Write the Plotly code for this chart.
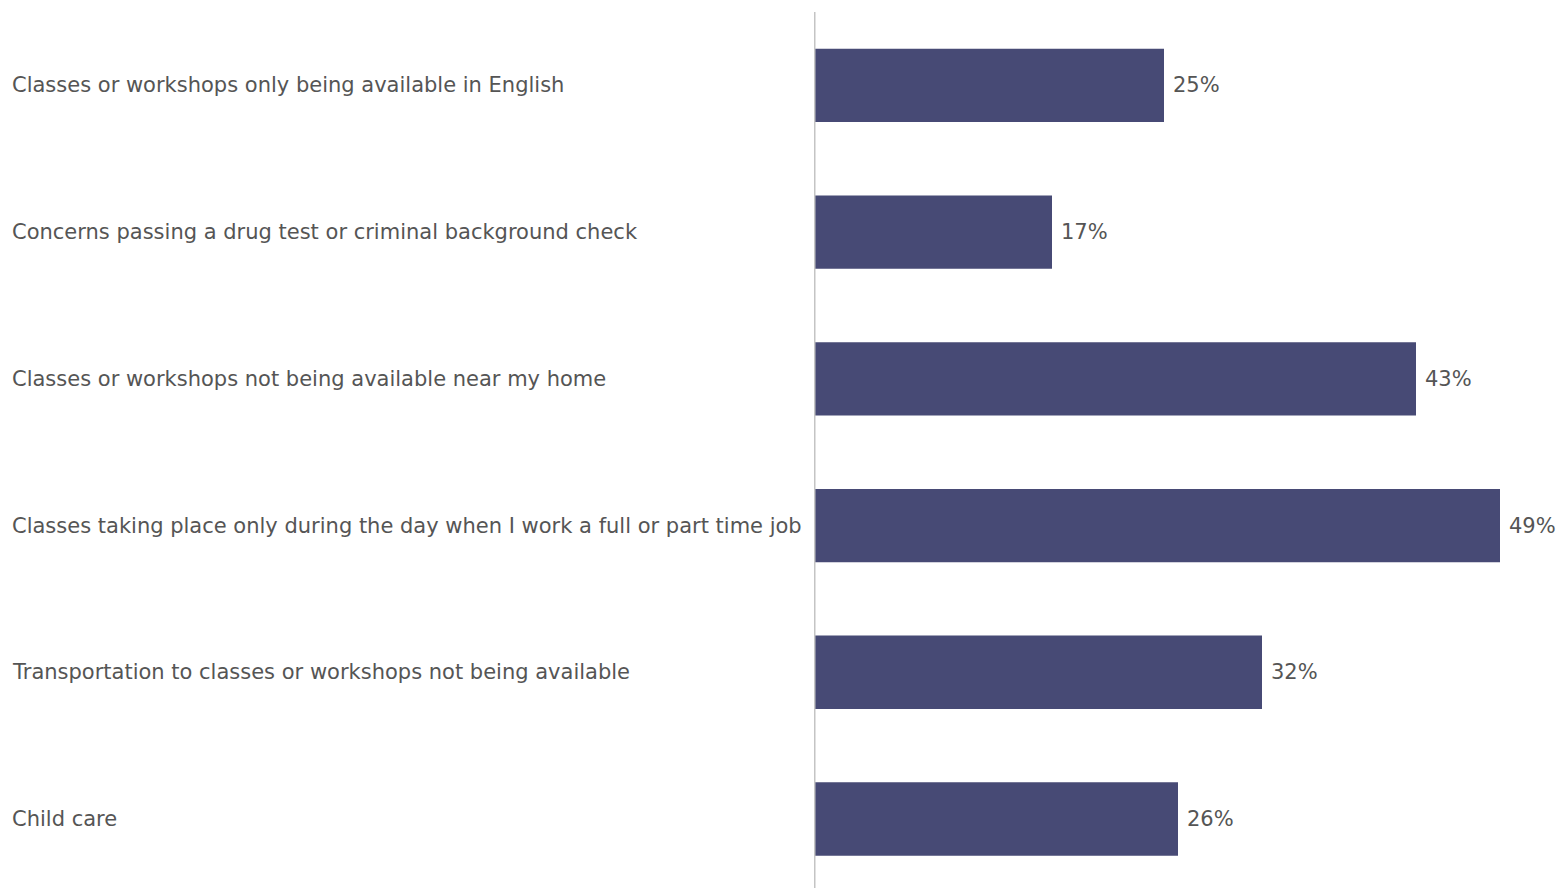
import plotly.graph_objects as go

categories = [
    "Classes or workshops only being available in English",
    "Concerns passing a drug test or criminal background check",
    "Classes or workshops not being available near my home",
    "Classes taking place only during the day when I work a full or part time job",
    "Transportation to classes or workshops not being available",
    "Child care",
]
values = [25, 17, 43, 49, 32, 26]
value_labels = [f"{v}%" for v in values]

BAR_COLOR = "#474a75"
TEXT_COLOR = "#555555"
FONT = "DejaVu Sans"
W, H = 1560, 888
LEFT = 814

fig = go.Figure(go.Bar(
    x=values, y=categories, orientation="h",
    marker=dict(color=BAR_COLOR, line=dict(width=0)),
    width=0.5, hoverinfo="skip",
))

label_x_paper = (10 - LEFT) / (W - LEFT)
annotations = []
for cat, v, lab in zip(categories, values, value_labels):
    annotations.append(dict(
        x=label_x_paper, xref="paper", y=cat, yref="y", text=cat,
        xanchor="left", yanchor="middle", showarrow=False,
        font=dict(family=FONT, size=21, color=TEXT_COLOR),
    ))
    annotations.append(dict(
        x=v, xref="x", y=cat, yref="y", text=lab,
        xanchor="left", yanchor="middle", showarrow=False, xshift=7,
        font=dict(family=FONT, size=21, color=TEXT_COLOR),
    ))

fig.update_layout(
    width=W, height=H,
    margin=dict(l=LEFT, r=0, t=12, b=0),
    paper_bgcolor="white", plot_bgcolor="white",
    showlegend=False,
    xaxis=dict(range=[0, (W - LEFT) / 14.0], visible=False, fixedrange=True),
    yaxis=dict(
        categoryorder="array", categoryarray=categories,
        range=[5.47, -0.5], showticklabels=False, showgrid=False,
        zeroline=False, showline=False, ticks="",
    ),
    shapes=[dict(type="line", xref="x", yref="paper", x0=0, x1=0, y0=0, y1=1,
                 line=dict(color="#c4c4c4", width=3), layer="above")],
    annotations=annotations,
)

fig.write_html("out.html")
